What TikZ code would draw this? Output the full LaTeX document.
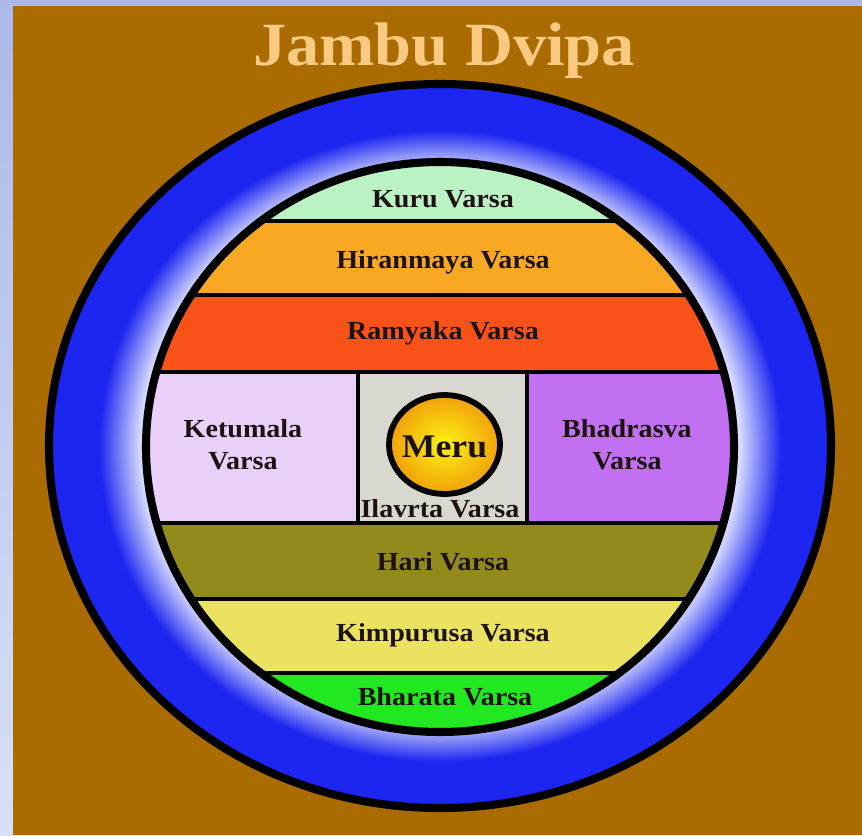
\documentclass[tikz,border=0pt]{standalone}
\usepackage{fontspec}
\setmainfont{Liberation Serif}
\newfontfamily\mapfont[FakeStretch=1.08]{Liberation Serif}
\usetikzlibrary{positioning}

\definecolor{frametop}{RGB}{172,184,232}
\definecolor{framebot}{RGB}{216,224,248}
\definecolor{earth}{RGB}{170,107,0}
\definecolor{titlecol}{RGB}{250,202,130}
\definecolor{oceanblue}{RGB}{28,38,240}
\definecolor{oceanpale}{RGB}{226,230,255}
\definecolor{inkcol}{RGB}{28,18,18}
\definecolor{kurucol}{RGB}{186,242,196}
\definecolor{hirancol}{RGB}{248,168,34}
\definecolor{ramyacol}{RGB}{248,82,24}
\definecolor{ketucol}{RGB}{232,208,248}
\definecolor{ilacol}{RGB}{216,216,208}
\definecolor{bhadcol}{RGB}{192,112,240}
\definecolor{haricol}{RGB}{146,138,26}
\definecolor{kimpcol}{RGB}{234,226,96}
\definecolor{bharcol}{RGB}{34,232,34}
\definecolor{meruin}{RGB}{250,242,20}
\definecolor{meruout}{RGB}{242,160,10}

\pgfdeclareradialshading{ocean}{\pgfpointorigin}{color(0bp)=(oceanpale); color(19bp)=(oceanpale); color(21.8bp)=(oceanblue); color(25bp)=(oceanblue); color(50bp)=(oceanblue)}

\begin{document}
\begin{tikzpicture}[x=0.02cm, y=-0.02cm,
		rim/.style={draw=black, line width=4.6pt},
		divide/.style={draw=black, line width=2.6pt},
		varsa/.style={font=\mapfont\bfseries\fontsize{14.8}{18.2}\selectfont, text=inkcol, inner sep=0pt, anchor=base, align=center},
		every node/.style={inner sep=0pt}]
	\useasboundingbox (0,0) rectangle (862,835);
	\shade[top color=frametop, bottom color=framebot] (0,0) rectangle (862,835);
	\fill[earth] (13,6) rectangle (862,835);

	\node[font=\mapfont\bfseries\fontsize{35}{40}\selectfont, text=titlecol, anchor=base] (title) at (444,65) {Jambu Dvipa};

	% ocean ring
	\shadedraw[shading=ocean, rim] (440,446) ellipse [x radius=391, y radius=362];

	\begin{scope}
		\clip (440,447) ellipse [x radius=294, y radius=285];
		\fill[kurucol] (140,150) rectangle (740,221);
		\fill[hirancol] (140,221) rectangle (740,295);
		\fill[ramyacol] (140,295) rectangle (740,372);
		\fill[ketucol] (140,372) rectangle (358,523);
		\fill[ilacol] (358,372) rectangle (527,523);
		\fill[bhadcol] (527,372) rectangle (740,523);
		\fill[haricol] (140,523) rectangle (740,599);
		\fill[kimpcol] (140,599) rectangle (740,673);
		\fill[bharcol] (140,673) rectangle (740,745);
		\foreach \y in {221,295,372,523,599,673}
			\draw[divide] (140,\y) -- (740,\y);
		\draw[divide] (358,372) -- (358,523);
		\draw[divide] (527,372) -- (527,523);
	\end{scope}
	\draw[rim] (440,447) ellipse [x radius=294, y radius=285];

	% Meru
	\shade[inner color=meruin, outer color=meruout, draw=black, line width=3.3pt] (444.5,444.5) ellipse [x radius=55.5, y radius=49.5];

	\node[varsa] (kuru) at (443,207) {Kuru Varsa};
	\node[varsa] (hiran) at (443,268) {Hiranmaya Varsa};
	\node[varsa] (ramya) at (443,339) {Ramyaka Varsa};
	\node[varsa] (ketu) at (243,469) {Ketumala\\Varsa};
	\node[varsa] (bhad) at (627,469) {Bhadrasva\\Varsa};
	\node[varsa, font=\mapfont\bfseries\fontsize{18.8}{22}\selectfont] (meru) at (444.5,457) {Meru};
	\node[varsa] (ila) at (440,517) {Ilavrta Varsa};
	\node[varsa] (hari) at (443,570) {Hari Varsa};
	\node[varsa] (kimp) at (443,641) {Kimpurusa Varsa};
	\node[varsa] (bhar) at (445,705) {Bharata Varsa};
\end{tikzpicture}
\end{document}
